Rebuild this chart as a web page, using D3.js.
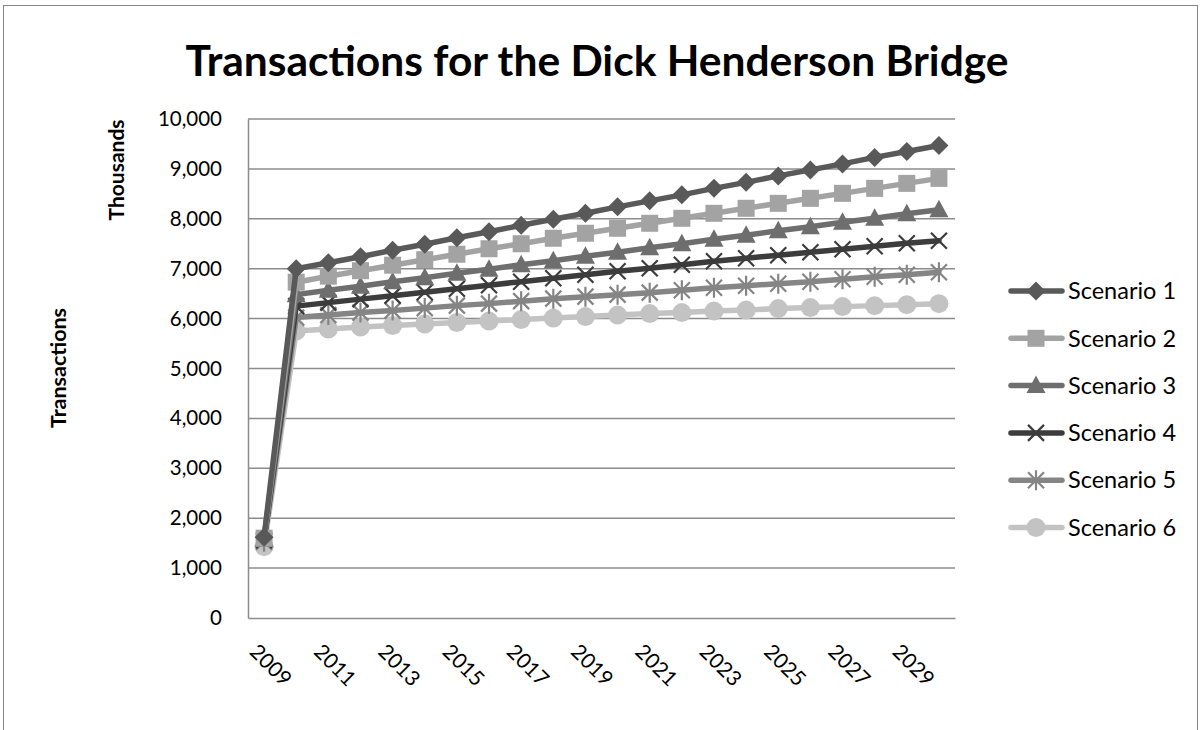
<!DOCTYPE html>
<html><head><meta charset="utf-8">
<script src="https://cdn.jsdelivr.net/npm/d3@7"></script>
<style>body{margin:0;background:#fff}svg{display:block}text{font-family:Lato,"Open Sans",sans-serif}</style>
</head><body><svg id="c" width="1202" height="730"></svg>
<script>
const years = d3.range(2009, 2031);
const tickYears = [2009,2011,2013,2015,2017,2019,2021,2023,2025,2027,2029];
const seriesNames = ["Scenario 1","Scenario 2","Scenario 3","Scenario 4","Scenario 5","Scenario 6"];
const scenario1 = [1620,7000,7120,7240,7370,7490,7620,7740,7870,7990,8110,8240,8360,8480,8610,8730,8860,8980,9100,9230,9350,9470];
const scenario2 = [1600,6730,6850,6960,7070,7180,7290,7400,7500,7610,7710,7810,7910,8010,8110,8210,8310,8410,8510,8610,8710,8810];
const scenario3 = [1580,6480,6570,6650,6740,6820,6910,6990,7080,7160,7250,7330,7420,7500,7590,7670,7760,7840,7930,8010,8100,8180];
const scenario4 = [1560,6250,6320,6390,6460,6530,6600,6670,6740,6810,6880,6950,7010,7080,7150,7210,7270,7330,7390,7450,7510,7560];
const scenario5 = [1530,6020,6070,6120,6160,6210,6260,6300,6350,6400,6440,6480,6520,6570,6620,6660,6700,6740,6790,6840,6880,6930];
const scenario6 = [1430,5750,5790,5830,5860,5890,5920,5950,5980,6010,6040,6070,6100,6120,6150,6170,6200,6220,6240,6260,6280,6300];
const yTicks = d3.range(0, 10001, 1000);

const allSeries = [scenario1,scenario2,scenario3,scenario4,scenario5,scenario6];
const colors = ["#595959","#a3a3a3","#6e6e6e","#3c3c3c","#858585","#c3c3c3"];
const markers = ["diamond","square","triangle","x","asterisk","circle"];

const svg = d3.select("#c");
const L=248,R=955,T=119,B=618;
const x = d3.scalePoint().domain(years).range([L,R]).padding(0.5);
const y = d3.scaleLinear().domain([0,10000]).range([B,T]);

svg.append("rect").attr("x",3.5).attr("y",5.5).attr("width",1194).attr("height",740)
  .attr("fill","none").attr("stroke","#868686").attr("stroke-width",1);

svg.append("text").attr("x",597).attr("y",76).attr("text-anchor","middle")
  .attr("font-size",42.5).attr("font-weight","bold").attr("fill","#000")
  .text("Transactions for the Dick Henderson Bridge");

svg.append("g").selectAll("line").data(yTicks.filter(d=>d>0)).join("line")
  .attr("x1",L).attr("x2",R).attr("y1",d=>y(d)).attr("y2",d=>y(d))
  .attr("stroke","#8c8c8c").attr("stroke-width",1.5);

const ya = svg.append("g").attr("transform",`translate(${L},0)`)
  .call(d3.axisLeft(y).tickValues(yTicks).tickFormat(d3.format(",")).tickSize(0).tickPadding(26));
ya.select(".domain").attr("stroke","#8c8c8c").attr("stroke-width",1.5);
ya.selectAll("text").attr("font-size",20.5).attr("fill","#000").attr("font-family","Lato");

const xa = svg.append("g").attr("transform",`translate(0,${B})`)
  .call(d3.axisBottom(x).tickValues(tickYears).tickSize(0).tickFormat(d3.format("d")));
xa.select(".domain").attr("stroke","#8c8c8c").attr("stroke-width",1.5);
xa.selectAll("text").attr("font-size",21).attr("fill","#000").attr("font-family","Lato")
  .attr("text-anchor","start").attr("dy",0)
  .attr("transform","translate(-14,33) rotate(45)");

svg.append("text").attr("transform","translate(124,170) rotate(-90)").attr("text-anchor","middle")
  .attr("font-size",21).attr("font-weight","bold").text("Thousands");
svg.append("text").attr("transform","translate(66,368) rotate(-90)").attr("text-anchor","middle")
  .attr("font-size",21.5).attr("font-weight","bold").text("Transactions");

function drawMarker(g, type, cx, cy, color){
  const s=9.5;
  if(type==="diamond") g.append("path").attr("d",`M${cx},${cy-s}L${cx+s},${cy}L${cx},${cy+s}L${cx-s},${cy}Z`).attr("fill",color);
  else if(type==="square") g.append("rect").attr("x",cx-8.5).attr("y",cy-8.5).attr("width",17).attr("height",17).attr("fill",color);
  else if(type==="triangle") g.append("path").attr("d",`M${cx},${cy-10}L${cx+9.5},${cy+7.5}L${cx-9.5},${cy+7.5}Z`).attr("fill",color);
  else if(type==="x") g.append("path").attr("d",`M${cx-8},${cy-8}L${cx+8},${cy+8}M${cx-8},${cy+8}L${cx+8},${cy-8}`).attr("stroke",color).attr("stroke-width",2.2);
  else if(type==="asterisk") g.append("path").attr("d",`M${cx-8},${cy-8}L${cx+8},${cy+8}M${cx-8},${cy+8}L${cx+8},${cy-8}M${cx},${cy-10}L${cx},${cy+10}`).attr("stroke",color).attr("stroke-width",2.2);
  else if(type==="circle") g.append("circle").attr("cx",cx).attr("cy",cy).attr("r",9.5).attr("fill",color);
}

const line = d3.line().x((d,i)=>x(years[i])).y(d=>y(d));
for(let k=allSeries.length-1;k>=0;k--){
  const g = svg.append("g");
  g.append("path").datum(allSeries[k]).attr("d",line).attr("fill","none")
    .attr("stroke",colors[k]).attr("stroke-width",5.5).attr("stroke-linejoin","round").attr("stroke-linecap","round");
  allSeries[k].forEach((v,i)=>drawMarker(g, markers[k], x(years[i]), y(v), colors[k]));
}

const lg = svg.append("g");
seriesNames.forEach((n,k)=>{
  const cy = 291 + k*47.3;
  lg.append("line").attr("x1",1011).attr("x2",1062).attr("y1",cy).attr("y2",cy)
    .attr("stroke",colors[k]).attr("stroke-width",5.5).attr("stroke-linecap","round");
  drawMarker(lg, markers[k], 1036, cy, colors[k]);
  lg.append("text").attr("x",1068).attr("y",cy).attr("dy","0.35em").attr("font-size",23.5).text(n);
});
</script></body></html>
